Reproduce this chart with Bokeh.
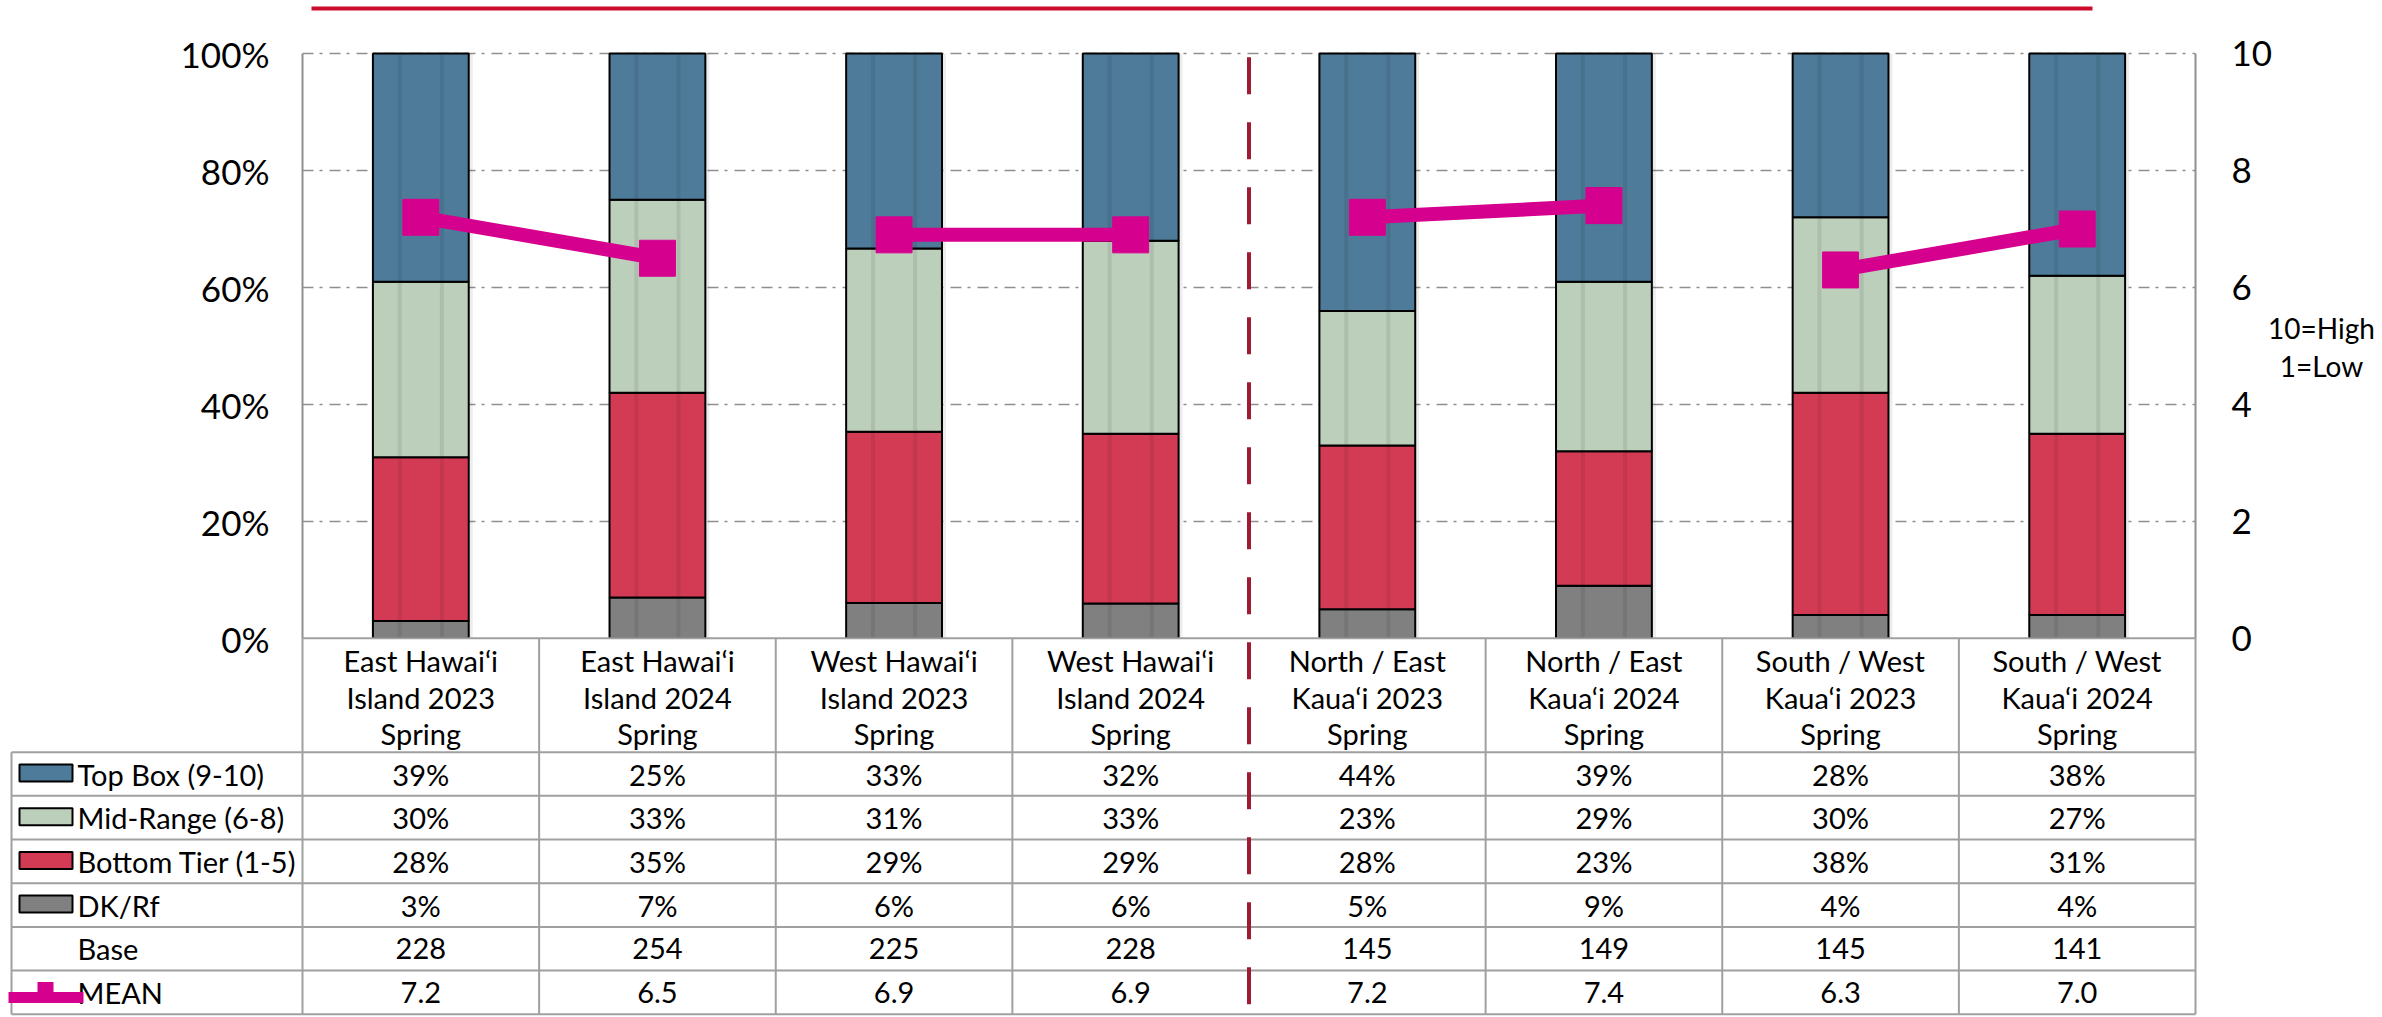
from bokeh.plotting import figure
from bokeh.models import Range1d, LinearAxis, FixedTicker, PrintfTickFormatter, ColumnDataSource
from bokeh.layouts import column
from bokeh.embed import file_html
from bokeh.resources import INLINE
from bokeh.core.properties import value

# ---------------- data ----------------
categories = [
    "East Hawai\u2018i\nIsland 2023\nSpring",
    "East Hawai\u2018i\nIsland 2024\nSpring",
    "West Hawai\u2018i\nIsland 2023\nSpring",
    "West Hawai\u2018i\nIsland 2024\nSpring",
    "North / East\nKaua\u2018i 2023\nSpring",
    "North / East\nKaua\u2018i 2024\nSpring",
    "South / West\nKaua\u2018i 2023\nSpring",
    "South / West\nKaua\u2018i 2024\nSpring",
]
region = [0, 0, 1, 1, 2, 2, 3, 3]
island = ["Hawai\u2018i", "Hawai\u2018i", "Hawai\u2018i", "Hawai\u2018i",
          "Kaua\u2018i", "Kaua\u2018i", "Kaua\u2018i", "Kaua\u2018i"]
top_box = [39, 25, 33, 32, 44, 39, 28, 38]
mid_range = [30, 33, 31, 33, 23, 29, 30, 27]
bottom_tier = [28, 35, 29, 29, 28, 23, 38, 31]
dk_rf = [3, 7, 6, 6, 5, 9, 4, 4]
base = [228, 254, 225, 228, 145, 149, 145, 141]
mean = [7.2, 6.5, 6.9, 6.9, 7.2, 7.4, 6.3, 7.0]
series_labels = ["Top Box (9-10)", "Mid-Range (6-8)", "Bottom Tier (1-5)", "DK/Rf"]
left_ticks = [0, 20, 40, 60, 80, 100]
right_ticks = [0, 2, 4, 6, 8, 10]
scale_note = "10=High\n1=Low"

# ---------------- styles ----------------
C_TOP = "#4E7B99"
C_MID = "#BCCFBB"
C_BOT = "#D33B55"
C_DK = "#808080"
C_MEAN = "#D6008E"
C_DIV = "#9E1B32"
C_RED = "#CC0A2B"
C_GRID = "#8F8F8F"
C_TBL = "#A0A0A0"
FONT = "Lato"
TFS = "29px"

W = 2382
H = 1017
PLOT_L = 302            # frame left (px)
PLOT_RX = 2195          # frame right (px)
Y0 = 637.7              # 0% line (px)
Y100 = 52.7             # 100% line (px)
N = len(categories)
CW = (PLOT_RX - PLOT_L) / N   # px per category
PX100 = Y0 - Y100
FRAME_H = 638
BOT_PAD = 30
H_TOP = FRAME_H + BOT_PAD
Y_END = 100 * FRAME_H / PX100

x = [i + 0.5 for i in range(N)]

# normalised shares (100% stacked)
tot = [a + b + c + d for a, b, c, d in zip(dk_rf, bottom_tier, mid_range, top_box)]
src = ColumnDataSource(dict(
    x=x,
    dk=[v / t * 100 for v, t in zip(dk_rf, tot)],
    bot=[v / t * 100 for v, t in zip(bottom_tier, tot)],
    mid=[v / t * 100 for v, t in zip(mid_range, tot)],
    top=[v / t * 100 for v, t in zip(top_box, tot)],
))

# ---------------- chart ----------------
p = figure(width=W, height=H_TOP, x_range=Range1d(0, N), y_range=Range1d(0, Y_END),
           x_axis_location=None, y_axis_location="left",
           min_border_left=PLOT_L, min_border_right=W - PLOT_RX,
           min_border_top=0, min_border_bottom=BOT_PAD,
           toolbar_location=None, output_backend="svg",
           outline_line_color=None, background_fill_color="white",
           border_fill_color="white")
p.frame_align = False
p.extra_y_ranges = {"mean": Range1d(0, Y_END / 10)}

p.xgrid.visible = False
p.ygrid.ticker = FixedTicker(ticks=left_ticks)
p.ygrid.grid_line_color = C_GRID
p.ygrid.grid_line_width = 1.5
p.ygrid.grid_line_dash = "11 6 3 7"

ya = p.yaxis[0]
ya.ticker = FixedTicker(ticks=left_ticks)
ya.formatter = PrintfTickFormatter(format="%d%%")
ya.bounds = (0, 100)
ra = LinearAxis(y_range_name="mean", ticker=FixedTicker(ticks=right_ticks), bounds=(0, 10))
p.add_layout(ra, "right")
for ax, so in ((ya, 33), (ra, 36)):
    ax.axis_line_color = C_GRID
    ax.axis_line_width = 2
    ax.major_tick_line_color = None
    ax.minor_tick_line_color = None
    ax.major_tick_out = 0
    ax.major_tick_in = 0
    ax.major_label_standoff = so
    ax.major_label_text_font = FONT
    ax.major_label_text_font_size = "35px"
    ax.major_label_text_color = "#000000"

BW = 0.405
# soft shadow behind bars
p.vbar(x=[v + 4 / CW for v in x], top=[100] * N, bottom=[0] * N, width=BW,
       fill_color="black", fill_alpha=0.07, line_color=None)
p.vbar_stack(["dk", "bot", "mid", "top"], x="x", width=BW, source=src,
             fill_color=[C_DK, C_BOT, C_MID, C_TOP], line_color="black", line_width=2)
# subtle vertical shading bands inside bars
for off in (-0.22 * BW, 0.22 * BW):
    sx = [v + off for v in x]
    p.segment(x0=sx, x1=sx, y0=[0.3] * N, y1=[99.7] * N,
              line_color="black", line_alpha=0.08, line_width=4)

# mean lines (one per region)
xs, ys = [], []
for r in sorted(set(region)):
    idx = [i for i in range(N) if region[i] == r]
    xs.append([x[i] for i in idx])
    ys.append([mean[i] for i in idx])
p.multi_line(xs, ys, y_range_name="mean", line_color=C_MEAN, line_width=14)
p.scatter(x, mean, y_range_name="mean", marker="square", size=36,
          fill_color=C_MEAN, line_color=C_MEAN)

# ---------------- overlay: table, divider, notes ----------------
t = figure(width=W, height=H, x_range=Range1d(-PLOT_L / CW, (W - PLOT_L) / CW),
           y_range=Range1d(H, 0),
           x_axis_location=None, y_axis_location=None,
           min_border_left=0, min_border_right=0, min_border_top=0, min_border_bottom=0,
           toolbar_location=None, output_backend="svg", outline_line_color=None,
           background_fill_color=None, border_fill_color=None)
t.frame_align = False
t.margin = (-H_TOP, 0, 0, 0)
t.grid.visible = False


def px(v):
    return (v - PLOT_L) / CW


HEAD_B = 751.7
ROW_H = 43.67
TBL_L = px(11)
row_top = [HEAD_B + k * ROW_H for k in range(6)]
row_mid = [r + ROW_H / 2 for r in row_top]
bottom = HEAD_B + 6 * ROW_H

div_x = [i for i in range(1, N) if island[i] != island[i - 1]]

# top red rule
t.segment(x0=[px(311)], x1=[px(2092)], y0=[8], y1=[8], line_color=C_RED, line_width=4)

# horizontal lines
t.segment(x0=[0], x1=[N], y0=[Y0], y1=[Y0], line_color=C_TBL, line_width=2)
hy = row_top + [bottom]
t.segment(x0=[TBL_L] * len(hy), x1=[N] * len(hy), y0=hy, y1=hy, line_color=C_TBL, line_width=2)
# vertical lines
vx = [i for i in range(N + 1) if i not in div_x]
t.segment(x0=vx, x1=vx, y0=[Y0] * len(vx), y1=[bottom] * len(vx), line_color=C_TBL, line_width=2)
t.segment(x0=[TBL_L], x1=[TBL_L], y0=[HEAD_B], y1=[bottom], line_color=C_TBL, line_width=2)
# divider between islands (chart + table)
t.segment(x0=div_x, x1=div_x, y0=[Y100] * len(div_x), y1=[bottom] * len(div_x),
          line_color=C_DIV, line_width=4, line_dash="37 28", line_dash_offset=61)

# header labels
t.text(x=x, y=[(Y0 + HEAD_B) / 2 + 2] * N, text=categories, text_font=value(FONT),
       text_font_size=TFS, text_align="center", text_baseline="middle",
       text_line_height=1.04, text_color="black")

rows = [
    [f"{v}%" for v in top_box],
    [f"{v}%" for v in mid_range],
    [f"{v}%" for v in bottom_tier],
    [f"{v}%" for v in dk_rf],
    [f"{v}" for v in base],
    [f"{v:.1f}" for v in mean],
]
for k, vals in enumerate(rows):
    t.text(x=x, y=[row_mid[k]] * N, text=vals, text_font=value(FONT),
           text_font_size=TFS, text_align="center", text_baseline="middle",
           text_color="black")

row_labels = series_labels + ["Base", "MEAN"]
t.text(x=[px(77)] * 6, y=row_mid, text=row_labels, text_font=value(FONT),
       text_font_size=TFS, text_align="left", text_baseline="middle", text_color="black")

# legend swatches
t.rect(x=[px(45.5)] * 4, y=[m - 1 for m in row_mid[:4]], width=53 / CW, height=17,
       fill_color=[C_TOP, C_MID, C_BOT, C_DK], line_color="black", line_width=2)
# mean legend
t.segment(x0=[px(8)], x1=[px(83)], y0=[row_mid[5] + 5], y1=[row_mid[5] + 5],
          line_color=C_MEAN, line_width=11)
t.rect(x=[px(45)], y=[row_mid[5] - 1], width=16 / CW, height=19,
       fill_color=C_MEAN, line_color=None)

# scale note at right
t.text(x=[px(2321)], y=[346.5], text=[scale_note], text_font=value(FONT),
       text_font_size="28px", text_align="center", text_baseline="middle",
       text_line_height=1.1, text_color="black")

layout = column(p, t, spacing=0)
open("out.html", "w").write(file_html(layout, INLINE))
